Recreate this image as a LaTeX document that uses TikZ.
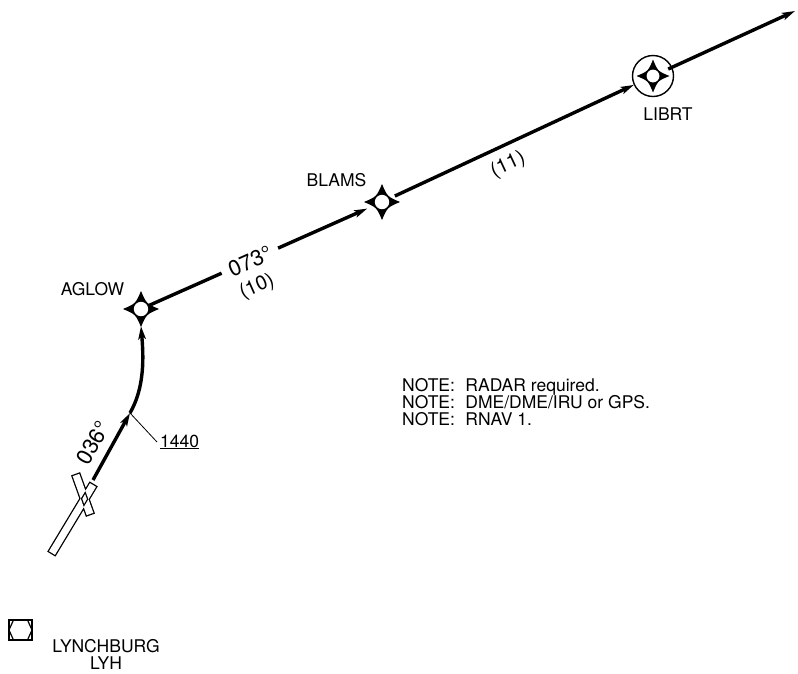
\documentclass[tikz,border=0pt]{standalone}
\usepackage{fontspec}
\setmainfont{TeX Gyre Heros}
\usetikzlibrary{arrows.meta}
\tikzset{
  >={Stealth[length=13pt,width=7.5pt,inset=3pt]},
  track/.style={line width=3.4pt},
  leader/.style={line width=0.8pt},
  fixnode/.style={circle, minimum size=34pt, inner sep=0pt},
  librtnode/.style={circle, draw, line width=1.4pt, minimum size=41pt, inner sep=0pt},
  lbl/.style={font=\fontsize{17.5}{20}\selectfont, inner sep=0pt},
  distlbl/.style={font=\fontsize{20}{22}\selectfont, inner sep=0pt},
  hdglbl/.style={font=\fontsize{22}{24}\selectfont, inner sep=0pt},
  pics/fixstar/.style={code={
    \fill[black] (0,18) .. controls (5.4,5.4) .. (18,0) .. controls (5.4,-5.4) .. (0,-18)
      .. controls (-5.4,-5.4) .. (-18,0) .. controls (-5.4,5.4) .. (0,18) -- cycle;
    \fill[white] (0,0) circle (7.2);
  }},
  pics/smallstar/.style={code={
    \fill[black] (0,16.5) .. controls (4.8,4.8) .. (16.5,0) .. controls (4.8,-4.8) .. (0,-16.5)
      .. controls (-4.8,-4.8) .. (-16.5,0) .. controls (-4.8,4.8) .. (0,16.5) -- cycle;
    \fill[white] (0,0) circle (6.4);
  }},
}
\begin{document}
\begin{tikzpicture}[x=1pt,y=-1pt]
\useasboundingbox (0,0) rectangle (798,673);
% fixes
\node[fixnode] (aglow) at (141,309) {};
\node[fixnode] (blams) at (382,202) {};
\node[librtnode] (librt) at (653,76) {};
\coordinate (exit) at (795,11);
\coordinate (legstart) at (93,480);
\coordinate (fix1440) at (130,413);
% route
\draw[track,->,shorten <=-8pt,shorten >=-1pt] (aglow) -- (blams);
\draw[track,->,shorten <=-3pt] (blams) -- (librt);
\draw[track,->,shorten <=-4.5pt] (librt) -- (exit);
\draw[track,->] (legstart) -- (fix1440);
\draw[track,->] (fix1440) .. controls (145,387) and (143.5,356) .. (aglow.south);
% fix symbols
\pic at (aglow) {fixstar};
\pic at (blams) {fixstar};
\pic at (librt) {smallstar};
% departure runway symbol
\draw[line width=2.6pt, line join=miter]
  (55,554.8) -- (49,551.2) -- (90,483.2) -- (96,486.8) -- cycle
  (79.3,473.8) -- (72.7,476.2) -- (86.7,515.2) -- (93.3,512.8) -- cycle;
\fill[white]
  (55,554.8) -- (49,551.2) -- (90,483.2) -- (96,486.8) -- cycle
  (79.3,473.8) -- (72.7,476.2) -- (86.7,515.2) -- (93.3,512.8) -- cycle;
% airport symbol
\draw[line width=2pt] (9,620) rectangle (32,640);
\draw[line width=1.2pt] (9,630) -- (13.5,620) -- (27.5,620) -- (32,630) -- (27.5,640) -- (13.5,640) -- cycle;
% labels
\node[lbl] (aglowlbl) at (92.5,289.5) {AGLOW};
\node[lbl] (blamslbl) at (336.5,180.5) {BLAMS};
\node[lbl] (librtlbl) at (668,114.5) {LIBRT};
\node[hdglbl, rotate=24, fill=white, inner xsep=8pt] (hdg073) at (250,261) {073°};
\node[distlbl, rotate=24] (dist10) at (257,287) {(10)};
\node[distlbl, rotate=25] (dist11) at (508,165) {(11)};
\node[hdglbl, rotate=60] (hdg036) at (93,443) {036°};
\node[lbl, anchor=base west] (n1440) at (160,447) {\underline{1440}};
\draw[leader] ([shift={(-3,-5)}]n1440.base west) -- (fix1440);
\node[lbl, anchor=base west] (note1) at (402,391) {NOTE:\hspace{0.6em}RADAR required.};
\node[lbl, anchor=base west] (note2) at (402,408) {NOTE:\hspace{0.6em}DME/DME/IRU or GPS.};
\node[lbl, anchor=base west] (note3) at (402,425) {NOTE:\hspace{0.6em}RNAV 1.};
\node[lbl] (lyhname) at (106,646) {LYNCHBURG};
\node[lbl] (lyhid) at (106,663) {LYH};
\end{tikzpicture}
\end{document}
